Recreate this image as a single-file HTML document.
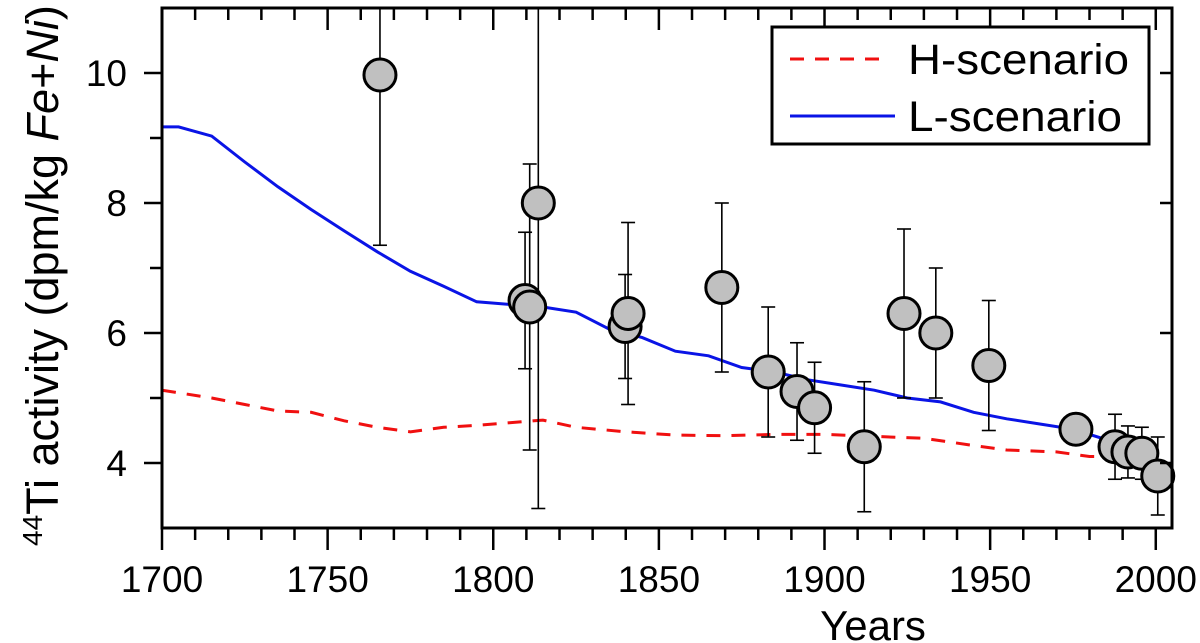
<!DOCTYPE html>
<html><head><meta charset="utf-8"><style>
html,body{margin:0;padding:0;background:#fff}
svg{display:block;font-family:"Liberation Sans",Arial,sans-serif}
</style></head><body>
<svg id="chart" width="1200" height="643" viewBox="0 0 1200 643">
<g id="grid-layer"></g>
</svg>
<script>
const years=[1765.8,1809.6,1811,1813.6,1839.8,1840.7,1869,1883,1891.7,1897,1912,1924,1933.6,1949.6,1975.9,1987.7,1991.6,1995.8,2000.6];
const activity=[9.97,6.5,6.4,8.0,6.1,6.3,6.7,5.4,5.1,4.85,4.25,6.3,6.0,5.5,4.52,4.25,4.17,4.15,3.8];
const errors=[2.62,1.05,2.2,4.7,0.8,1.4,1.3,1.0,0.75,0.7,1.0,1.3,1.0,1.0,0.13,0.5,0.4,0.4,0.6];
const lYears=[1700,1705,1715,1725,1735,1745,1755,1765,1775,1785,1795,1805,1815,1825,1835,1845,1855,1865,1875,1885,1895,1905,1915,1925,1935,1945,1955,1965,1975,1985,1995];
const lValues=[9.17,9.17,9.03,8.63,8.25,7.9,7.57,7.25,6.95,6.72,6.48,6.44,6.4,6.32,6.06,5.93,5.72,5.65,5.47,5.4,5.28,5.2,5.12,5.0,4.94,4.78,4.68,4.6,4.52,4.36,4.32];
const hYears=[1700,1715,1725,1735,1745,1755,1765,1775,1785,1795,1815,1825,1840,1855,1870,1885,1900,1915,1930,1945,1955,1970,1980,1990,1995];
const hValues=[5.12,5.0,4.9,4.8,4.78,4.65,4.55,4.48,4.55,4.58,4.66,4.55,4.48,4.43,4.42,4.44,4.44,4.41,4.38,4.27,4.2,4.17,4.1,4.1,4.13];
const xTicks=[1700,1750,1800,1850,1900,1950,2000];
const yTicks=[4,6,8,10];

const NS='http://www.w3.org/2000/svg';
const svg=document.getElementById('chart');
const L=162,R=1172,T=8,B=528,X0=1700,X1=2004.9,Y0=3,Y1=11;
const sx=v=>L+(v-X0)/(X1-X0)*(R-L);
const sy=v=>B-(v-Y0)/(Y1-Y0)*(B-T);
function mk(tag,attrs,parent){const e=document.createElementNS(NS,tag);for(const k in attrs)e.setAttribute(k,attrs[k]);(parent||svg).appendChild(e);return e;}

const defs=mk('defs',{});const cp=mk('clipPath',{id:'clip'},defs);mk('rect',{x:L,y:T,width:R-L,height:B-T},cp);

function series(xs,ys,color,dash,name){
  const d=xs.map((x,i)=>(i?'L':'M')+sx(x).toFixed(1)+','+sy(ys[i]).toFixed(1)).join('');
  const p=mk('path',{d:d,fill:'none',stroke:color,'stroke-width':3,'stroke-dasharray':dash,'clip-path':'url(#clip)'});
  
  
}
series(hYears,hValues,'#f01010','14 11','h-scenario-line');
series(lYears,lValues,'#0a14e6','','l-scenario-line');

const eg=mk('g',{'clip-path':'url(#clip)'});


years.forEach((y,i)=>{
  const x=sx(y),lo=sy(activity[i]-errors[i]),hi=sy(activity[i]+errors[i]);
  const g=mk('g',{stroke:'#000','stroke-width':1.6},eg);
  
  
  mk('line',{x1:x,x2:x,y1:lo,y2:hi},g);
  mk('line',{x1:x-7,x2:x+7,y1:lo,y2:lo},g);
  mk('line',{x1:x-7,x2:x+7,y1:hi,y2:hi},g);
});
years.forEach((y,i)=>{
  const c=mk('circle',{cx:sx(y),cy:sy(activity[i]),r:16,fill:'#c0c0c0',stroke:'#000','stroke-width':3});
  
  
});

const fr=mk('rect',{x:L,y:T,width:R-L,height:B-T,fill:'none',stroke:'#000','stroke-width':3});



for(let yr=1700;yr<=2000;yr+=10){
  const x=sx(yr),maj=yr%50===0;
  mk('line',{x1:x,x2:x,y1:B,y2:B+(maj?22:12),stroke:'#000','stroke-width':2.5});
  mk('line',{x1:x,x2:x,y1:T,y2:T+(maj?22:12),stroke:'#000','stroke-width':2.5});
}
xTicks.forEach(v=>{
  const t=mk('text',{x:sx(v),y:592,'font-size':37,'text-anchor':'middle'});
  t.textContent=v;
  
  
});
for(let v=4;v<=10;v+=1){
  const y=sy(v),maj=v%2===0;
  mk('line',{x1:L-(maj?18:12),x2:L,y1:y,y2:y,stroke:'#000','stroke-width':2.5});
  mk('line',{x1:R-(maj?12:0),x2:R,y1:y,y2:y,stroke:'#000','stroke-width':2.5});
}
yTicks.forEach(v=>{
  const t=mk('text',{x:127,y:sy(v)+13,'font-size':37,'text-anchor':'end'});
  t.textContent=v;
  
  
});

const xt=mk('text',{x:873,y:640,'font-size':42,'text-anchor':'middle'});
xt.textContent='Years';



const yt=mk('text',{transform:'translate(58,546) rotate(-90)','font-size':45});


yt.innerHTML='<tspan font-size="28" dy="-16">44</tspan><tspan dy="16">Ti activity (dpm/kg </tspan><tspan font-style="italic">Fe</tspan><tspan>+</tspan><tspan font-style="italic">Ni</tspan><tspan>)</tspan>';

const lg=mk('g',{});


mk('rect',{x:772,y:27,width:377,height:117,fill:'#fff',stroke:'#000','stroke-width':3},lg);
mk('line',{x1:790,x2:882,y1:59,y2:59,stroke:'#f01010','stroke-width':3,'stroke-dasharray':'14 11'},lg);
mk('line',{x1:790,x2:895,y1:116,y2:116,stroke:'#0a14e6','stroke-width':3},lg);
const t1=mk('text',{x:908,y:74,'font-size':43,textLength:221,lengthAdjust:'spacingAndGlyphs'},lg);
t1.textContent='H-scenario';


const t2=mk('text',{x:908,y:131,'font-size':43,textLength:214,lengthAdjust:'spacingAndGlyphs'},lg);
t2.textContent='L-scenario';


</script>
</body></html>
